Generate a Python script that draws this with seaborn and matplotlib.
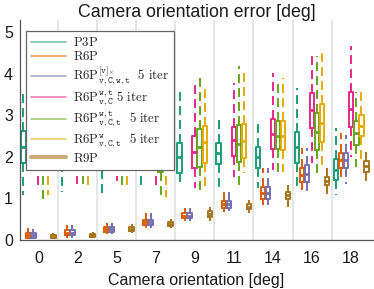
import numpy as np
import pandas as pd
import matplotlib
matplotlib.use("Agg")
import matplotlib.pyplot as plt
from matplotlib.lines import Line2D
import seaborn as sns

# ---------------- data ----------------
angles = ["0", "2", "5", "7", "9", "11", "14", "16", "18"]
methods = ["P3P", "R6P", "R6Pv", "R6Pwt_vC", "R6Pwt_vCt", "R6Pw_vCt", "R9P"]
labels = [
    r"$\mathrm{P3P}$",
    r"$\mathrm{R6P}$",
    r"$\mathrm{R6P}^{[\mathtt{v}]_{\times}}_{\mathtt{v,C,w,t}}\ \ \mathrm{5\ iter}$",
    r"$\mathrm{R6P}^{\mathtt{w,t}}_{\mathtt{v,C}}\ \mathrm{5\ iter}$",
    r"$\mathrm{R6P}^{\mathtt{w,t}}_{\mathtt{v,C,t}}\ \ \mathrm{5\ iter}$",
    r"$\mathrm{R6P}^{\mathtt{w}}_{\mathtt{v,C,t}}\ \ \mathrm{5\ iter}$",
    r"$\mathrm{R9P}$",
]
colors = ["#1b9e77", "#d95f02", "#7570b3", "#e7298a", "#66a61e", "#e6ab02", "#a6761d"]

# five-number summary per angle: [whisker_low, q1, median, q3, whisker_high]
p3p = [[1.07, 1.84, 2.24, 2.62, 3.57], [1.16, 1.84, 2.20, 2.60, 3.50],
       [1.11, 1.68, 2.00, 2.35, 3.30], [1.20, 1.87, 2.20, 2.55, 3.50],
       [1.36, 1.61, 2.00, 2.34, 3.69], [1.28, 1.82, 2.10, 2.34, 2.97],
       [1.24, 1.72, 1.99, 2.23, 2.89], [1.24, 1.84, 2.23, 2.60, 3.65],
       [1.07, 1.44, 1.68, 1.94, 2.69]]
r6p = [[0.02, 0.05, 0.10, 0.15, 0.28], [0.05, 0.10, 0.17, 0.22, 0.35],
       [0.14, 0.19, 0.25, 0.31, 0.39], [0.29, 0.35, 0.42, 0.47, 0.63],
       [0.45, 0.52, 0.58, 0.65, 0.75], [0.67, 0.75, 0.85, 0.93, 1.21],
       [0.83, 0.99, 1.12, 1.28, 1.72], [1.20, 1.40, 1.56, 1.72, 2.20],
       [1.40, 1.72, 1.92, 2.08, 2.58]]
r6pv = [[0.02, 0.05, 0.10, 0.15, 0.25], [0.05, 0.10, 0.17, 0.22, 0.36],
        [0.14, 0.19, 0.25, 0.31, 0.39], [0.29, 0.35, 0.42, 0.47, 0.65],
        [0.45, 0.52, 0.58, 0.65, 0.75], [0.70, 0.75, 0.85, 0.93, 1.20],
        [0.83, 0.99, 1.12, 1.28, 1.72], [1.15, 1.40, 1.58, 1.80, 2.20],
        [1.34, 1.72, 1.92, 2.08, 2.53]]
r6p_wt_vc = [[1.30, 2.20, 2.50, 2.85, 3.90], [1.35, 2.20, 2.50, 2.90, 3.90],
             [1.42, 2.20, 2.50, 2.85, 3.90], [1.30, 2.20, 2.50, 2.85, 3.80],
             [1.24, 1.72, 2.12, 2.50, 3.77], [1.52, 2.02, 2.40, 2.72, 3.77],
             [1.68, 2.18, 2.55, 2.92, 4.03], [1.84, 2.69, 3.13, 3.53, 4.54],
             [2.00, 2.71, 3.14, 3.55, 4.66]]
r6p_wt_vct = [[0.97, 2.20, 2.45, 2.80, 3.90], [1.33, 2.20, 2.45, 2.80, 3.80],
              [1.24, 2.20, 2.45, 2.80, 3.80], [1.01, 1.64, 2.00, 2.40, 3.70],
              [1.07, 1.76, 2.23, 2.66, 3.95], [1.32, 1.86, 2.31, 2.76, 4.19],
              [1.64, 2.18, 2.50, 2.85, 3.81], [1.56, 2.16, 2.60, 3.05, 4.42],
              [1.76, 2.28, 2.58, 2.85, 3.55]]
r6p_w_vct = [[1.08, 2.20, 2.50, 2.85, 3.80], [1.26, 2.20, 2.50, 2.85, 3.80],
             [1.28, 2.20, 2.50, 2.85, 3.90], [1.02, 2.20, 2.50, 2.85, 3.90],
             [1.29, 1.84, 2.36, 2.74, 3.73], [1.60, 1.98, 2.39, 2.78, 4.13],
             [1.64, 2.15, 2.50, 2.85, 3.89], [1.68, 2.35, 2.81, 3.27, 4.56],
             [1.92, 2.50, 2.74, 3.01, 3.55]]
r9p = [[0.02, 0.05, 0.07, 0.10, 0.17], [0.03, 0.07, 0.10, 0.13, 0.18],
       [0.15, 0.20, 0.25, 0.30, 0.38], [0.27, 0.32, 0.37, 0.42, 0.50],
       [0.45, 0.55, 0.62, 0.68, 0.78], [0.65, 0.74, 0.79, 0.85, 0.95],
       [0.79, 0.99, 1.07, 1.15, 1.32], [1.07, 1.32, 1.42, 1.52, 1.76],
       [1.40, 1.64, 1.78, 1.90, 2.20]]

series = [p3p, r6p, r6pv, r6p_wt_vc, r6p_wt_vct, r6p_w_vct, r9p]
rows = []
for m, s in zip(methods, series):
    for a, five in zip(angles, s):
        for v in five:
            rows.append((a, m, v))
df = pd.DataFrame(rows, columns=["angle", "method", "value"])

# ---------------- style ----------------
sns.set_style("white")
plt.rcParams["font.family"] = ["Liberation Sans", "DejaVu Sans"]
plt.rcParams["mathtext.fontset"] = "cm"

fig = plt.figure(figsize=(3.74, 2.89), dpi=100)
ax = fig.add_axes([0.0535, 0.171, 0.944, 0.76])

lw = 1.4
sns.boxplot(
    data=df, x="angle", y="value", hue="method",
    order=angles, hue_order=methods, palette=colors,
    dodge=True, width=0.9, gap=0.08, fill=False, linewidth=lw,
    whis=np.inf, showcaps=False, showfliers=False,
    whiskerprops=dict(linestyle=(0, (4.6, 2.6))),
    medianprops=dict(linewidth=2.0),
    legend=False, ax=ax,
)

ax.set_xlim(-0.47, 8.56)
ax.set_ylim(0, 5.3)
ax.set_yticks([0, 1, 2, 3, 4, 5])
ax.set_xticks(np.arange(0.5, 8, 1), minor=True)
ax.grid(which="minor", axis="x", color="#e4e4e4", linewidth=1.3)
ax.grid(which="major", axis="both", visible=False)
ax.set_axisbelow(True)

for sp in ["top", "right"]:
    ax.spines[sp].set_visible(False)
for sp in ["left", "bottom"]:
    ax.spines[sp].set_color("#555555")
    ax.spines[sp].set_linewidth(0.9)

ax.tick_params(which="major", direction="in", length=3, width=0.8,
               color="#333333", labelsize=11.5, labelcolor="#1a1a1a")
ax.tick_params(axis="x", which="major", pad=8.5)
ax.tick_params(axis="y", which="major", pad=5)
ax.tick_params(which="minor", length=0)

ax.set_xlabel("Camera orientation [deg]", fontsize=11.5, labelpad=5, color="#1a1a1a")
ax.set_ylabel("")
ax.set_title("Camera orientation error [deg]", fontsize=12.8, pad=2, color="#1a1a1a")

handles = []
for i, c in enumerate(colors):
    handles.append(Line2D([0], [0], color=c, alpha=0.6,
                          linewidth=3.0 if i == 6 else 1.2))
leg = ax.legend(handles, labels, loc="upper left",
                bbox_to_anchor=(0.017, 0.95), borderaxespad=0,
                fontsize=9.3, frameon=True, fancybox=False,
                handlelength=2.7, handletextpad=0.5, labelspacing=0.1,
                borderpad=0.4)
leg.get_frame().set_edgecolor("#666666")
leg.get_frame().set_linewidth(0.9)
leg.get_frame().set_alpha(1.0)
leg.set_zorder(10)

fig.savefig("out.png", dpi=100)
